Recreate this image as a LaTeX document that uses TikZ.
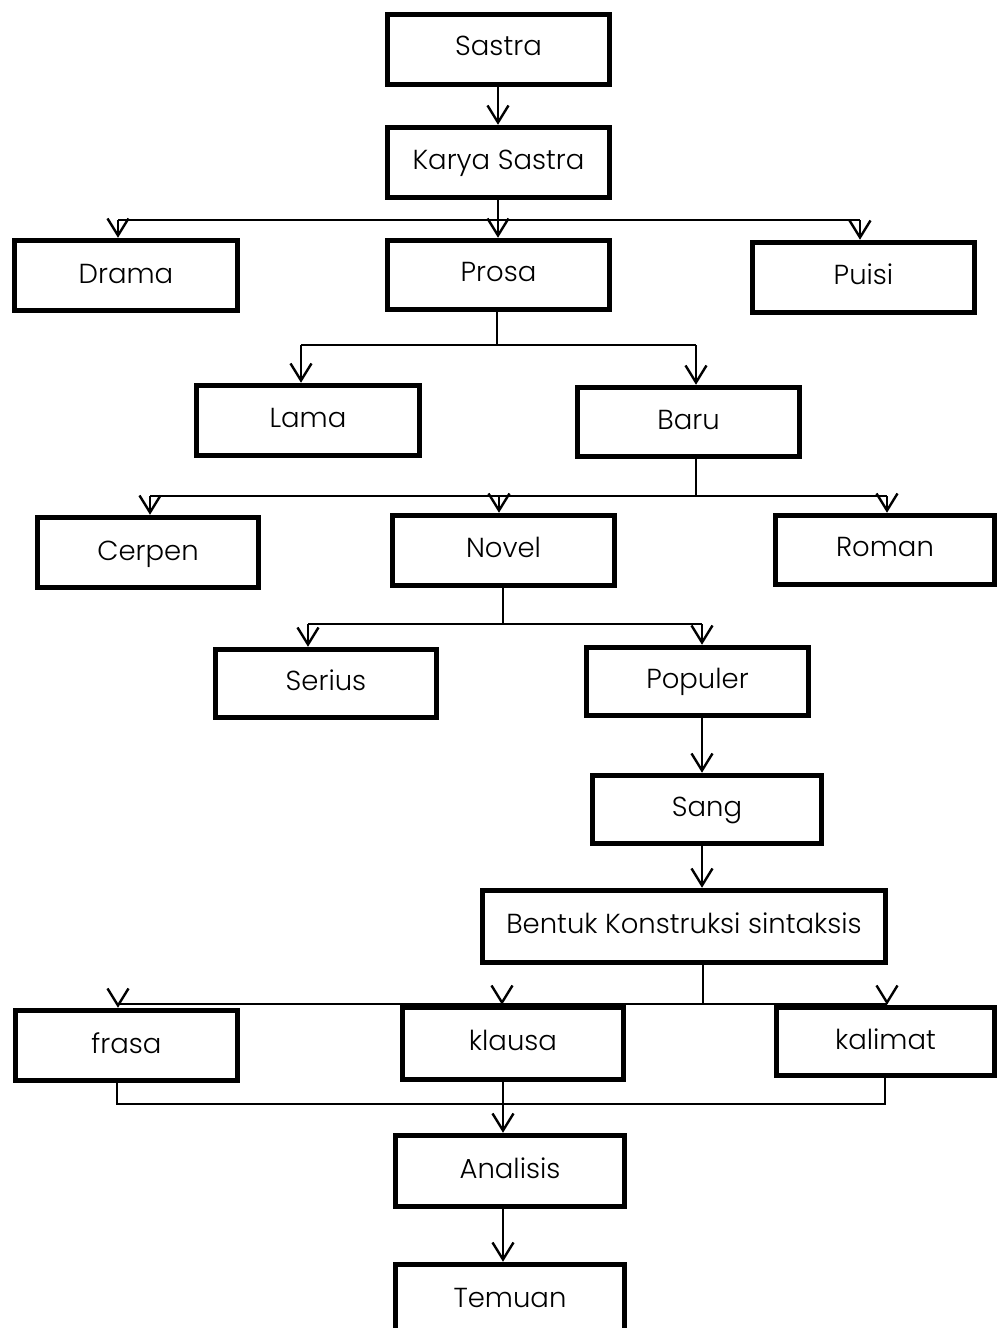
\documentclass[tikz,border=0pt]{standalone}
\usepackage{fontspec}
\setmainfont{Poppins}[UprightFont=* Light]
\usetikzlibrary{arrows.meta}
\tikzset{
  box/.style={draw=black, line width=5.5pt, fill=white, inner sep=0pt, text height=20pt, text depth=7pt, font=\fontsize{27.5}{32}\selectfont},
  arr/.style={line width=2.4pt, -{Straight Barb[length=17pt,width=21pt,line width=2.4pt]}},
  branch/.style={line width=1.8pt},
}
\begin{document}
\begin{tikzpicture}[x=1pt,y=-1pt]
\useasboundingbox (0,0) rectangle (997,1328);
\clip (0,0) rectangle (997,1328);
% boxes: center, width, height (outer minus border)
\node[box, minimum width=222pt, minimum height=70pt, text depth=9pt] (sastra) at (498.5,49.5) {Sastra};
\node[box, minimum width=222pt, minimum height=70pt] (karya) at (498.5,162.5) {Karya Sastra};
\node[box, minimum width=223pt, minimum height=70pt, text depth=5pt] (drama) at (126,275.5) {Drama};
\node[box, minimum width=222pt, minimum height=69pt, text depth=8pt] (prosa) at (498.5,275) {Prosa};
\node[box, minimum width=222pt, minimum height=70pt] (puisi) at (863.5,277.5) {Puisi};
\node[box, minimum width=223pt, minimum height=70pt] (lama) at (308,420.5) {Lama};
\node[box, minimum width=222pt, minimum height=69pt, text depth=5pt] (baru) at (688.5,422) {Baru};
\node[box, minimum width=221pt, minimum height=70pt, text depth=5pt] (cerpen) at (148,552.5) {Cerpen};
\node[box, minimum width=222pt, minimum height=70pt] (novel) at (503.5,550.5) {Novel};
\node[box, minimum width=219pt, minimum height=69pt, text depth=8pt] (roman) at (885,550) {Roman};
\node[box, minimum width=221pt, minimum height=68pt] (serius) at (326,683.5) {Serius};
\node[box, minimum width=222pt, minimum height=68pt, text depth=6pt] (populer) at (697.5,681.5) {Populer};
\node[box, minimum width=229pt, minimum height=68pt] (sang) at (707,809.5) {Sang};
\node[box, minimum width=403pt, minimum height=72pt, text depth=6pt] (bentuk) at (684,926.5) {Bentuk Konstruksi sintaksis};
\node[box, minimum width=222pt, minimum height=70pt, text depth=5pt] (frasa) at (126.5,1045.5) {frasa};
\node[box, minimum width=221pt, minimum height=72pt] (klausa) at (513,1043.5) {klausa};
\node[box, minimum width=218pt, minimum height=68pt, text depth=4pt] (kalimat) at (885.5,1041.5) {kalimat};
\node[box, minimum width=229pt, minimum height=71pt, text depth=6pt] (analisis) at (510,1171) {Analisis};
\node[box, minimum width=229pt, minimum height=73pt, text depth=8pt] (temuan) at (510,1301) {Temuan};
% branch points
\coordinate (c1) at (498,220);
\coordinate (c1l) at (118,220);
\coordinate (c1r) at (860,220);
\coordinate (c2) at (497,345);
\coordinate (c2l) at (301,345);
\coordinate (c2r) at (696,345);
\coordinate (c3) at (696,496);
\coordinate (c3l) at (150,496);
\coordinate (c3m) at (499,496);
\coordinate (c3r) at (887,496);
\coordinate (c4) at (503,624);
\coordinate (c4l) at (308,624);
\coordinate (c4r) at (702,624);
\coordinate (c5) at (703,1004);
\coordinate (c5l) at (118,1004);
\coordinate (c5m) at (502,1004);
\coordinate (c5r) at (887,1004);
\coordinate (c6) at (503,1104);
\coordinate (c6l) at (117,1104);
\coordinate (c6r) at (885,1104);
% connectors
\draw[arr] (sastra.south -| c1) -- (karya.north -| c1);
\draw[branch] (c1l) -- (c1r);
\draw[arr] (karya.south -| c1) -- (prosa.north -| c1);
\draw[arr] (c1l) -- (drama.north -| c1l);
\draw[arr] (c1r) -- (puisi.north -| c1r);
\draw[branch] (prosa.south -| c2) -- (c2);
\draw[branch] (c2l) -- (c2r);
\draw[arr] (c2l) -- (lama.north -| c2l);
\draw[arr] (c2r) -- (baru.north -| c2r);
\draw[branch] (baru.south -| c3) -- (c3);
\draw[branch] (c3l) -- (c3r);
\draw[arr] (c3l) -- (cerpen.north -| c3l);
\draw[arr] (c3m) -- (novel.north -| c3m);
\draw[arr] (c3r) -- (roman.north -| c3r);
\draw[branch] (novel.south -| c4) -- (c4);
\draw[branch] (c4l) -- (c4r);
\draw[arr] (c4l) -- (serius.north -| c4l);
\draw[arr] (c4r) -- (populer.north -| c4r);
\draw[arr] (populer.south -| c4r) -- (sang.north -| c4r);
\draw[arr] (sang.south -| c4r) -- (bentuk.north -| c4r);
\draw[branch] (bentuk.south -| c5) -- (c5);
\draw[branch] (c5l) -- (c5r);
\draw[arr] (c5l) -- (frasa.north -| c5l);
\draw[arr] (c5m) -- (klausa.north -| c5m);
\draw[arr] (c5r) -- (kalimat.north -| c5r);
\draw[branch] (frasa.south -| c6l) -- (c6l) -- (c6r) -- (kalimat.south -| c6r);
\draw[arr] (klausa.south -| c6) -- (analisis.north -| c6);
\draw[arr] (analisis.south -| c6) -- (temuan.north -| c6);
\end{tikzpicture}
\end{document}
